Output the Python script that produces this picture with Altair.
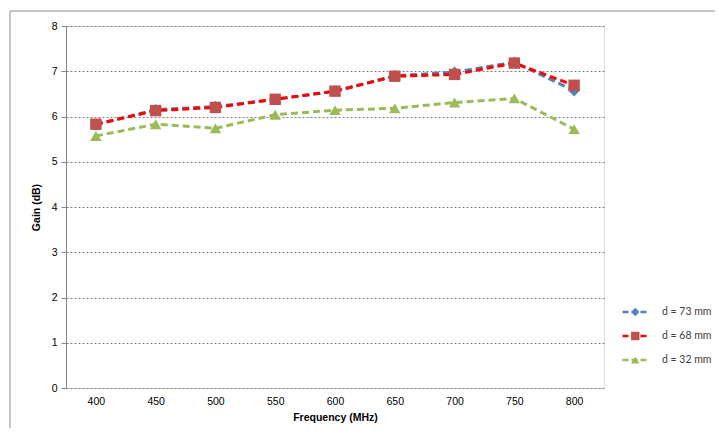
import altair as alt
import pandas as pd

freqs = [400, 450, 500, 550, 600, 650, 700, 750, 800]
series = ["d = 73 mm", "d = 68 mm", "d = 32 mm"]
gain_73 = [5.82, 6.15, 6.22, 6.38, 6.56, 6.90, 6.98, 7.20, 6.57]
gain_68 = [5.83, 6.13, 6.20, 6.38, 6.56, 6.89, 6.93, 7.18, 6.69]
gain_32 = [5.57, 5.83, 5.74, 6.04, 6.14, 6.18, 6.31, 6.40, 5.72]
y_ticks = [0, 1, 2, 3, 4, 5, 6, 7, 8]

line_colors = ["#4F81BD", "#FF0000", "#9BBB59"]
marker_colors = ["#4F81BD", "#C0504D", "#9BBB59"]
shapes = ["diamond", "square", "triangle-up"]
marker_keys = [s + " marker" for s in series]

rows = []
for i, (name, mk, vals) in enumerate(zip(series, marker_keys, [gain_73, gain_68, gain_32])):
    for f, v in zip(freqs, vals):
        rows.append({"Frequency": str(f), "Gain": v, "Series": name,
                     "Marker": mk, "order": i})
df = pd.DataFrame(rows)

FONT = "Lato"

x_enc = alt.X("Frequency:O", sort=[str(f) for f in freqs],
              scale=alt.Scale(type="point", padding=0.5),
              axis=alt.Axis(title="Frequency (MHz)", labelAngle=0, ticks=False,
                            domain=False, labelPadding=8, titlePadding=6,
                            labelFontSize=10.5, titleFontSize=10.5))
y_enc = alt.Y("Gain:Q", scale=alt.Scale(domain=[0, 8], nice=False),
              axis=alt.Axis(title="Gain (dB)", values=y_ticks, grid=True,
                            gridDash=[2, 2], gridColor="#7f7f7f", gridWidth=1,
                            tickSize=5, tickColor="#868686", domainColor="#868686",
                            labelPadding=4, titlePadding=10, format="d",
                            labelFontSize=10.5, titleFontSize=10.5))

leg_common = dict(orient="none", title=None, labelFontSize=10.5, labelFont=FONT,
                  labelColor="#404040", rowPadding=10, clipHeight=14)

lines = alt.Chart(df).mark_line(strokeDash=[7, 4], strokeWidth=3).encode(
    x=x_enc, y=y_enc,
    stroke=alt.Stroke("Series:N", sort=series,
                      scale=alt.Scale(domain=series, range=line_colors),
                      legend=alt.Legend(symbolType="stroke", symbolSize=676,
                                        symbolStrokeWidth=2.5, symbolDash=[6, 3],
                                        labelOffset=12, legendX=555, legendY=279,
                                        **leg_common)),
    detail="Series:N",
    order="order:Q",
)

marker_legend = alt.Legend(symbolSize=70, labelExpr="''", labelOffset=12,
                           legendX=564, legendY=279, symbolStrokeWidth=0,
                           **leg_common)

points = alt.Chart(df).mark_point(filled=True, opacity=1, size=130).encode(
    x=x_enc, y=y_enc,
    fill=alt.Fill("Marker:N", sort=marker_keys,
                  scale=alt.Scale(domain=marker_keys, range=marker_colors),
                  legend=marker_legend),
    shape=alt.Shape("Marker:N", sort=marker_keys,
                    scale=alt.Scale(domain=marker_keys, range=shapes),
                    legend=marker_legend),
    order="order:Q",
)

frame = alt.Data(values=[{"a": 1}])
top_edge = alt.Chart(frame).mark_rule(stroke="#8c8c8c", strokeWidth=1).encode(
    x=alt.value(-56), x2=alt.value(649), y=alt.value(-15))
left_edge = alt.Chart(frame).mark_rule(stroke="#8c8c8c", strokeWidth=1).encode(
    x=alt.value(-56), y=alt.value(-15), y2=alt.value(402))

chart = alt.layer(top_edge, left_edge, lines, points).properties(
    width=538, height=362,
    autosize=alt.AutoSizeParams(type="none"),
    padding={"left": 58, "top": 18, "right": 111, "bottom": 40},
).configure_view(
    stroke="#868686", strokeWidth=1
).configure_axis(
    labelFont=FONT, titleFont=FONT, labelColor="#404040", titleColor="#262626",
    titleFontWeight="bold"
).configure(background="white")

chart.save("out.html", embed_options={"renderer": "svg", "actions": False})
